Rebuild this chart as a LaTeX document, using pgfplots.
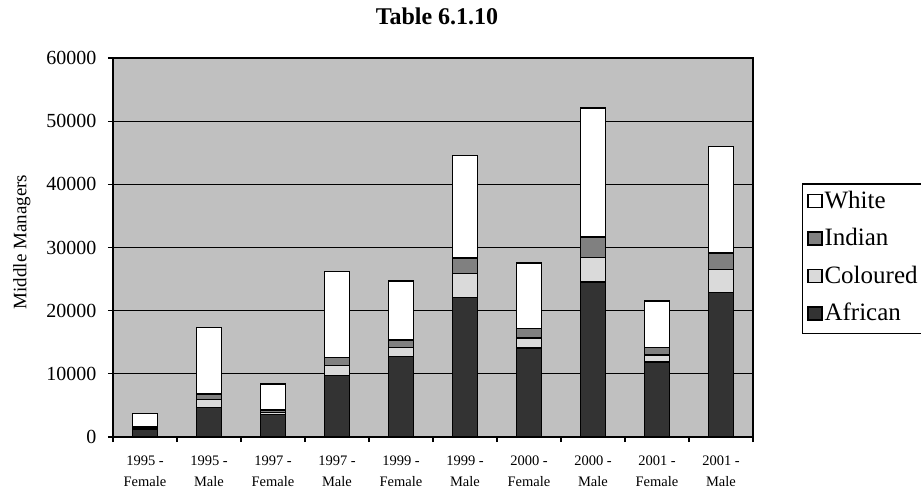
\documentclass[border=0pt]{standalone}
\usepackage{fontspec}
\setmainfont{Liberation Serif}
\usepackage{pgfplots}
\pgfplotsset{compat=1.18}
\definecolor{african}{HTML}{333333}
\definecolor{coloured}{HTML}{DADADA}
\definecolor{indian}{HTML}{808080}
\definecolor{bgray}{HTML}{C0C0C0}
\begin{document}
\begin{tikzpicture}
\useasboundingbox (-113pt,-54pt) rectangle (808pt,437pt);
\begin{axis}[
  at={(0pt,0pt)}, anchor=south west,
  scale only axis, width=640pt, height=379pt,
  ybar stacked, bar width=25pt,
  xmin=-0.5, xmax=9.5, ymin=0, ymax=60000,
  axis background/.style={fill=bgray},
  axis line style={black, line width=1.5pt},
  ymajorgrids, major grid style={black, line width=1.3pt},
  ytick={0,10000,...,60000},
  scaled y ticks=false,
  /pgf/number format/1000 sep={},
  /pgf/number format/assume math mode=true,
  yticklabel style={font=\fontsize{20}{22}\selectfont, xshift=-8pt},
  xtick={0,...,9},
  xticklabels={{1995 -\\Female},{1995 -\\Male},{1997 -\\Female},{1997 -\\Male},{1999 -\\Female},{1999 -\\Male},{2000 -\\Female},{2000 -\\Male},{2001 -\\Female},{2001 -\\Male}},
  xticklabel style={align=center, font=\fontsize{14.5}{21.7}\selectfont, yshift=-10pt},
  major x tick style={draw=none},
  minor xtick={-0.5,0.5,...,9.5},
  tick pos=left, tick align=outside,
  major tick length=5pt, minor tick length=5pt,
  tick style={black, line width=1.3pt},
  ylabel={Middle Managers},
  ylabel style={at={(axis description cs:-0.1425,0.5145)}, anchor=center, font=\fontsize{19}{22}\selectfont},
  title={Table 6.1.10},
  title style={at={(axis description cs:0.50625,1.095)}, anchor=center, font=\bfseries\fontsize{24}{28}\selectfont},
  reverse legend,
  legend cell align=left,
  legend image code/.code={\draw[#1, line width=1.6pt] (0.5pt,-5pt) rectangle (14pt,8pt);},
  legend style={at={(axis description cs:1.0761,0.6694)}, anchor=north west,
    draw=black, line width=1.5pt, fill=white,
    font=\fontsize{25}{28}\selectfont,
    inner xsep=5pt, inner ysep=6pt, row sep=12.5pt,
    nodes={inner sep=2pt, text height=16pt, text depth=5pt}},
]
\addplot[fill=african, draw=black, line width=1.5pt] coordinates {(0,1200) (1,4700) (2,3550) (3,9700) (4,12750) (5,22100) (6,14100) (7,24500) (8,11850) (9,22900)};
\addplot[fill=coloured, draw=black, line width=1.5pt] coordinates {(0,200) (1,1250) (2,350) (3,1650) (4,1400) (5,3800) (6,1600) (7,3950) (8,1150) (9,3600)};
\addplot[fill=indian, draw=black, line width=1.5pt] coordinates {(0,250) (1,850) (2,350) (3,1250) (4,1200) (5,2450) (6,1450) (7,3200) (8,1200) (9,2650)};
\addplot[fill=white, draw=black, line width=1.5pt] coordinates {(0,2100) (1,10500) (2,4150) (3,13600) (4,9350) (5,16250) (6,10400) (7,20400) (8,7350) (9,16850)};
\legend{African,Coloured,Indian,White}
\end{axis}
\end{tikzpicture}
\end{document}
